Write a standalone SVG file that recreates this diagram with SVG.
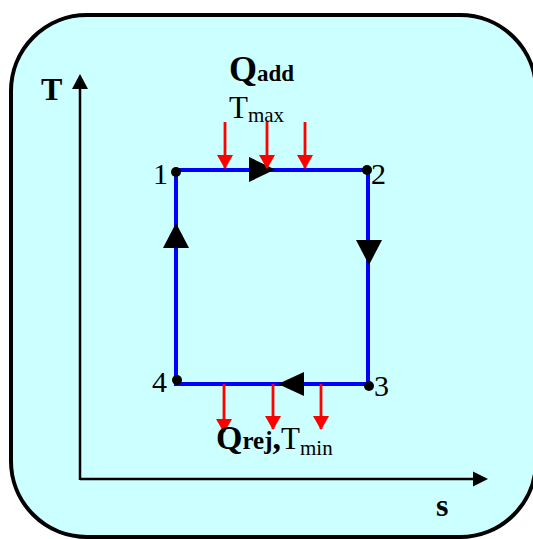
<svg xmlns="http://www.w3.org/2000/svg" width="533" height="539" viewBox="0 0 533 539">
  <style>
    .serif { font-family: "Liberation Serif", "Times New Roman", serif; fill: #000; }
    .bold { font-weight: bold; }
    .cyc { stroke: #0000FF; stroke-width: 4; fill: none; stroke-linecap: square; }
    .heat { stroke: #FF0000; stroke-width: 2.8; fill: none; marker-end: url(#redHead); }
    .axis { stroke: #000; stroke-width: 2.5; fill: none; }
    .tri { fill: #000; }
    .dot { fill: #000; }
  </style>
  <defs>
    <marker id="redHead" markerUnits="userSpaceOnUse" viewBox="0 0 14 16" refX="13" refY="8" markerWidth="14" markerHeight="16" orient="auto">
      <path d="M0,0 L14,8 L0,16 Z" fill="#FF0000"/>
    </marker>
  </defs>

  <rect id="background" x="11" y="15" width="525" height="522" rx="76" ry="76" fill="#CCFFFF" stroke="#000" stroke-width="4"/>

  <g id="axes">
    <line class="axis" x1="80" y1="480" x2="80" y2="88"/>
    <polygon class="tri" points="80,74 72,89 88,89"/>
    <line class="axis" x1="80" y1="479" x2="474" y2="479"/>
    <polygon class="tri" points="488,479 473,471.5 473,486.5"/>
    <text class="serif bold" x="41" y="100" font-size="32">T</text>
    <text class="serif bold" x="436" y="516" font-size="32">s</text>
  </g>

  <g id="connectors">
    <line class="cyc" x1="176" y1="170" x2="368" y2="170"/>
    <line class="cyc" x1="368" y1="170" x2="368" y2="384"/>
    <line class="cyc" x1="368" y1="384" x2="176" y2="384"/>
    <line class="cyc" x1="176" y1="384" x2="176" y2="170"/>
    <polygon class="tri" points="249,157 249,182 275,169.5"/>
    <polygon class="tri" points="356,240 382,240 369,265"/>
    <polygon class="tri" points="278,384 304,372 304,396"/>
    <polygon class="tri" points="176,223 163,248 189,248"/>
    <line class="heat" x1="225" y1="122" x2="225" y2="168"/>
    <line class="heat" x1="267" y1="122" x2="267" y2="168"/>
    <line class="heat" x1="305" y1="122" x2="305" y2="168"/>
    <line class="heat" x1="224" y1="384" x2="224" y2="432"/>
    <line class="heat" x1="273" y1="384" x2="273" y2="429"/>
    <line class="heat" x1="321" y1="384" x2="321" y2="429"/>
  </g>

  <g id="state1">
    <circle class="dot" cx="176" cy="172" r="5"/>
    <text class="serif" x="153" y="184" font-size="30">1</text>
  </g>
  <g id="state2">
    <circle class="dot" cx="367" cy="170" r="5"/>
    <text class="serif" x="371" y="184" font-size="30">2</text>
  </g>
  <g id="state3">
    <circle class="dot" cx="369" cy="386" r="5"/>
    <text class="serif" x="374" y="396" font-size="30">3</text>
  </g>
  <g id="state4">
    <circle class="dot" cx="177" cy="380" r="5"/>
    <text class="serif" x="152" y="392" font-size="30">4</text>
  </g>

  <g id="qadd">
    <text class="serif bold" x="229" y="81" font-size="36">Q<tspan font-size="23">add</tspan></text>
    <text class="serif" x="229" y="118" font-size="31">T<tspan font-size="21" dy="4">max</tspan></text>
  </g>
  <g id="qrej">
    <text class="serif" x="216" y="449" font-size="34"><tspan class="bold">Q</tspan><tspan class="bold" font-size="25">rej</tspan><tspan class="bold">,</tspan><tspan font-size="31">T</tspan><tspan font-size="21" dy="6">min</tspan></text>
  </g>
</svg>
